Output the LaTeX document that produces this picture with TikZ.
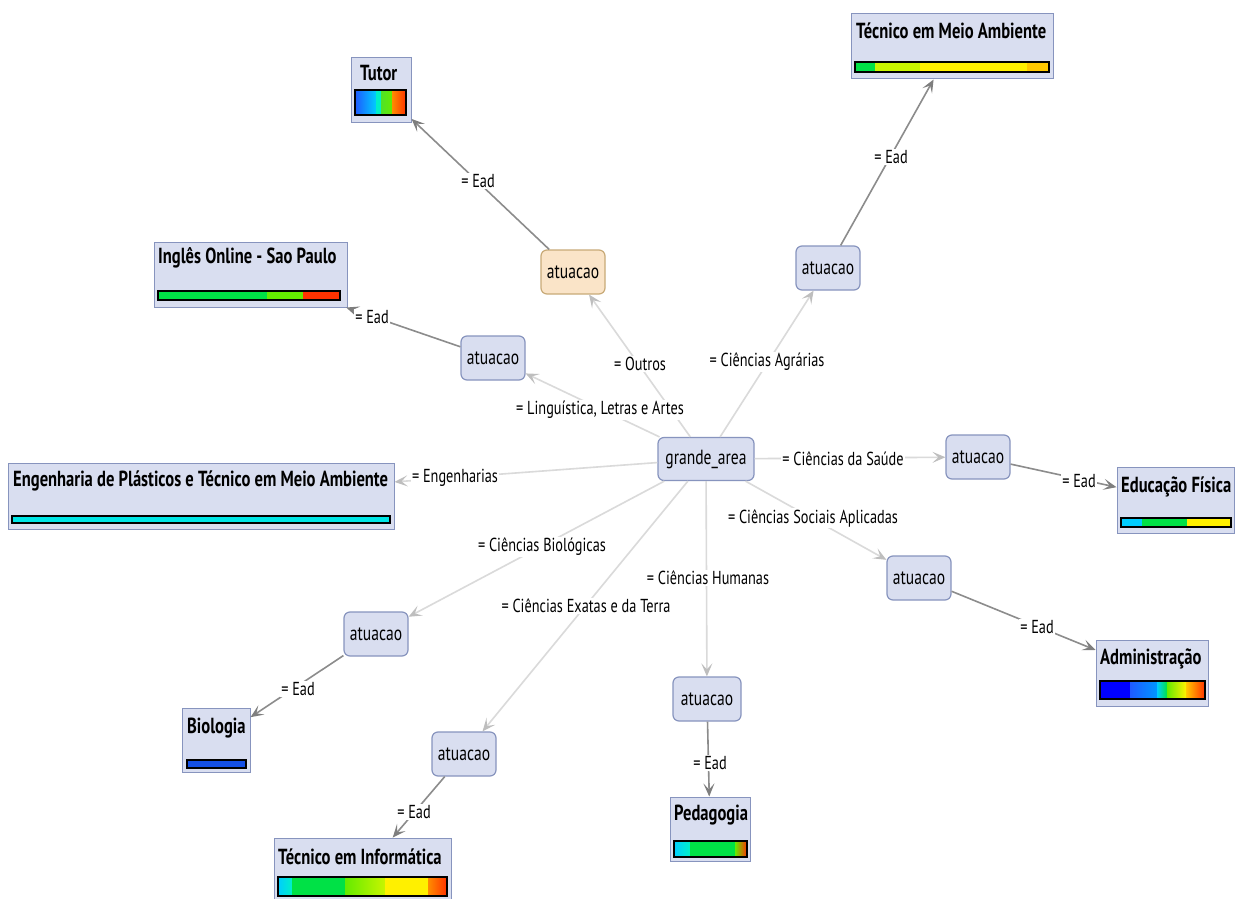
\documentclass[tikz,border=0pt]{standalone}
\usepackage{fontspec}
\setmainfont[FakeStretch=0.76]{PT Sans}
\usetikzlibrary{arrows.meta}
\definecolor{nfill}{RGB}{217,222,240}
\definecolor{ndraw}{RGB}{135,148,190}
\definecolor{ofill}{RGB}{250,228,200}
\definecolor{odraw}{RGB}{200,170,120}
\definecolor{eone}{RGB}{218,218,218}
\definecolor{eonetip}{RGB}{190,190,190}
\definecolor{etwo}{RGB}{140,140,140}
\definecolor{cB}{RGB}{0,0,255}
\definecolor{cBl}{RGB}{30,90,255}
\definecolor{cMB}{RGB}{0,150,255}
\definecolor{cC}{RGB}{0,205,255}
\definecolor{cT}{RGB}{0,240,200}
\definecolor{cG}{RGB}{0,225,70}
\definecolor{cGG}{RGB}{80,225,40}
\definecolor{cLG}{RGB}{100,235,0}
\definecolor{cYG}{RGB}{200,245,0}
\definecolor{cY}{RGB}{255,240,0}
\definecolor{cYO}{RGB}{255,200,0}
\definecolor{cO}{RGB}{255,140,0}
\definecolor{cR}{RGB}{255,50,0}
\definecolor{cCy}{RGB}{0,230,230}
\definecolor{cBio}{RGB}{20,80,230}
\newcommand\cbar[5]{%
  \foreach \xa/\xb/\cc in {#5}{\fill[\cc] (\xa,#2) rectangle (\xb,#4);}
  \draw[black,line width=1.2pt] (#1,#2) rectangle (#3,#4);}
\newcommand\gbar[5]{%
  \foreach \xa/\xb/\ca/\cb in {#5}{\shade[left color=\ca,right color=\cb] (\xa,#2) rectangle (\xb,#4);}
  \draw[black,line width=1.2pt] (#1,#2) rectangle (#3,#4);}
\tikzset{
  anode/.style={draw=ndraw, fill=nfill, rounded corners=6pt, line width=1.2pt,
    minimum width=64pt, minimum height=44pt, font=\fontsize{20.5}{22}\selectfont, inner sep=2pt},
  onode/.style={anode, draw=odraw, fill=ofill},
  leaf/.style={draw=ndraw, fill=nfill, line width=1pt, inner sep=0pt},
  ltitle/.style={font=\bfseries\fontsize{21.8}{23}\selectfont, inner sep=0pt, anchor=west},
  elab/.style={fill=white, inner sep=1pt, font=\fontsize{18.8}{20}\selectfont},
  eonearr/.style={draw=eone, line width=1.6pt,
    -{Stealth[length=13pt,width=11pt,inset=6pt,color=eonetip]}},
  etwoarr/.style={draw=etwo, line width=1.6pt,
    -{Stealth[length=13pt,width=11pt,inset=6pt,color=etwo!90!black]}}
}
\begin{document}
\begin{tikzpicture}[x=1pt,y=-1pt]
\useasboundingbox[fill=white] (0,0) rectangle (1235,899);

% leaves
\node[leaf, minimum width=60pt, minimum height=64pt] (tutor) at (381,90) {};
\node[ltitle] (tutorT) at (360,73) {Tutor};
\gbar{355}{90}{406}{115}{355/376/cBl/cC,376/381/cT/cT,381/392/cGG/cLG,392/406/cO/cR}

\node[leaf, minimum width=202pt, minimum height=65pt] (tma) at (952,46.5) {};
\node[ltitle] (tmaT) at (856,31) {Técnico em Meio Ambiente};
\cbar{855}{62}{1049}{72}{855/875/cG,875/920/cYG,920/1027/cY,1027/1049/cYO}

\node[leaf, minimum width=193pt, minimum height=65pt] (ing) at (250.5,274.5) {};
\node[ltitle] (ingT) at (158,258) {Inglês Online - Sao Paulo};
\cbar{158}{291}{340}{300}{158/267/cG,267/303/cLG,303/340/cR}

\node[leaf, minimum width=386pt, minimum height=66pt] (eng) at (201,496) {};
\node[ltitle] (engT) at (13,481) {Engenharia de Plásticos e Técnico em Meio Ambiente};
\cbar{12}{516}{390}{523}{12/390/cCy}

\node[leaf, minimum width=117pt, minimum height=66pt] (edf) at (1175.5,500) {};
\node[ltitle] (edfT) at (1121,487) {Educação Física};
\cbar{1121}{518}{1231}{527}{1121/1142/cC,1142/1187/cG,1187/1231/cY}

\node[leaf, minimum width=112pt, minimum height=66pt] (adm) at (1152,673) {};
\node[ltitle] (admT) at (1100,659) {Administração};
\gbar{1100}{681}{1205}{699}{1100/1130/cB/cB,1130/1157/cBl/cMB,1157/1167/cC/cG,1167/1186/cLG/cY,1186/1205/cYO/cR}

\node[leaf, minimum width=68pt, minimum height=64pt] (bio) at (216,740) {};
\node[ltitle] (bioT) at (187,728) {Biologia};
\cbar{187}{760}{246}{768}{187/246/cBio}

\node[leaf, minimum width=80pt, minimum height=64pt] (ped) at (710,829) {};
\node[ltitle] (pedT) at (674,815) {Pedagogia};
\gbar{674}{841}{747}{857}{674/690/cC/cT,690/735/cG/cG,735/747/cLG/cR}

\node[leaf, minimum width=177pt, minimum height=70pt] (inf) at (362.5,873) {};
\node[ltitle] (infT) at (278,857) {Técnico em Informática};
\gbar{278}{877}{447}{896}{278/292/cC/cT,292/345/cG/cG,345/385/cLG/cYG,385/428/cY/cY,428/447/cO/cR}

% inner nodes
\node[anode, minimum width=96pt, minimum height=43pt] (ga) at (706,459) {grande\_area};
\node[onode] (aOut) at (573,272) {atuacao};
\node[anode] (aAgr) at (828,268) {atuacao};
\node[anode] (aLin) at (493,358) {atuacao};
\node[anode] (aSau) at (978,457) {atuacao};
\node[anode] (aSoc) at (919,578) {atuacao};
\node[anode] (aBio) at (376,634) {atuacao};
\node[anode, minimum width=68pt] (aHum) at (707,699) {atuacao};
\node[anode] (aExa) at (464,754) {atuacao};

% first-level edges
\draw[eonearr] (ga) -- (aOut);
\draw[eonearr] (ga) -- (aAgr);
\draw[eonearr] (ga) -- (aLin);
\draw[eonearr] (ga) -- (aSau);
\draw[eonearr] (ga) -- (eng);
\draw[eonearr] (ga) -- (aSoc);
\draw[eonearr] (ga) -- (aBio);
\draw[eonearr] (ga) -- (aHum);
\draw[eonearr] (ga) -- (aExa);

% second-level edges
\draw[etwoarr] (aOut) -- (tutor);
\draw[etwoarr] (aAgr) -- (tma);
\draw[etwoarr] (aLin) -- (ing);
\draw[etwoarr] (aSau) -- (edf);
\draw[etwoarr] (aSoc) -- (adm);
\draw[etwoarr] (aBio) -- (bio);
\draw[etwoarr] (aHum) -- (ped);
\draw[etwoarr] (aExa) -- (inf);

% labels
\node[elab] (lOut) at (640,364) {= Outros};
\node[elab] (lAgr) at (767,362) {= Ciências Agrárias};
\node[elab] (lLin) at (600,410) {= Linguística, Letras e Artes};
\node[elab] (lSau) at (843,459) {= Ciências da Saúde};
\node[elab] (lEng) at (455,478) {= Engenharias};
\node[elab] (lSoc) at (813,518) {= Ciências Sociais Aplicadas};
\node[elab] (lBio) at (542,547) {= Ciências Biológicas};
\node[elab] (lHum) at (708,578) {= Ciências Humanas};
\node[elab] (lExa) at (586,606) {= Ciências Exatas e da Terra};
\node[elab] (eTut) at (478,181) {= Ead};
\node[elab] (eTma) at (891,157) {= Ead};
\node[elab] (eIng) at (372,317) {= Ead};
\node[elab] (eEdf) at (1079,481) {= Ead};
\node[elab] (eAdm) at (1037,627) {= Ead};
\node[elab] (eBio) at (298,689) {= Ead};
\node[elab] (ePed) at (710,763) {= Ead};
\node[elab] (eInf) at (414,812) {= Ead};
\end{tikzpicture}
\end{document}
